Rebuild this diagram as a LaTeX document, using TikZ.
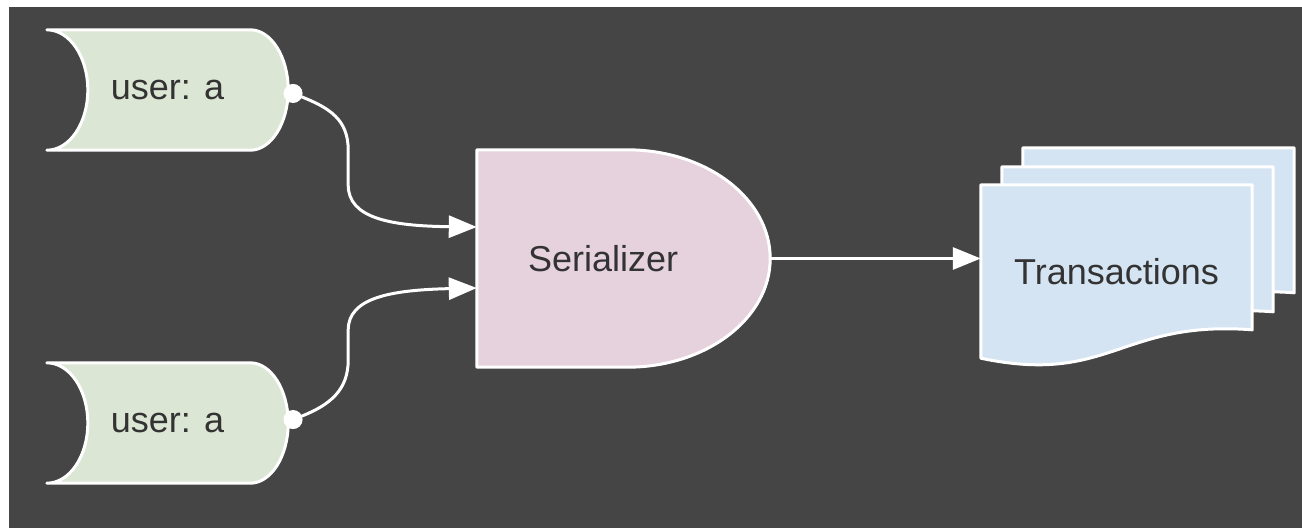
\documentclass[tikz,border=0pt]{standalone}
\usepackage{fontspec}
\setmainfont{Liberation Sans}
\usetikzlibrary{arrows.meta, positioning, calc, backgrounds}
\definecolor{canvas}{HTML}{454545}
\definecolor{usergreen}{HTML}{DCE6D4}
\definecolor{serpink}{HTML}{E6D2DD}
\definecolor{txblue}{HTML}{D4E4F2}
\definecolor{inkgray}{HTML}{333333}

\begin{document}
\begin{tikzpicture}[
  x=1pt, y=-1pt,
  shapetext/.style={font=\fontsize{36}{40}\selectfont, text=inkgray, inner sep=0pt},
  user/.style={shapetext, minimum width=241pt, minimum height=120pt},
  gate/.style={shapetext, minimum height=217pt, text width=191pt, inner xsep=51pt, align=left},
  doc/.style={shapetext, minimum width=271pt, minimum height=173pt},
  outline/.style={draw=white, line width=3pt, line join=round},
  flow/.style={white, line width=3pt},
]
\node[user] (ua) at (167.5,90) {user: a};
\node[user] (ub) at (167.5,423) {user: a};
\node[gate] (ser) at (623.5,258.5) {Serializer};
\node[doc] (tx) at (1116.5,271.5) {Transactions};

\begin{scope}[on background layer]
  \fill[white] (0,0) rectangle (1302,528);
  \fill[canvas] (9,7) rectangle (1302,528);
  % stored data shapes
  \foreach \u in {ua,ub}
    \path[outline, fill=usergreen] (\u.north west)
      .. controls +(23,0) and +(0,-33) .. ($(\u.west)+(41,0)$)
      .. controls +(0,33) and +(23,0) .. (\u.south west)
      -- ($(\u.south east)+(-38,0)$)
      .. controls +(21,0) and +(0,33) .. (\u.east)
      .. controls +(0,-33) and +(21,0) .. ($(\u.north east)+(-38,0)$) -- cycle;
  % delay shape
  \path[outline, fill=serpink] (ser.north west) -- ($(ser.north east)+(-143,0)$)
    .. controls +(79,0) and +(0,-60) .. (ser.east)
    .. controls +(0,60) and +(79,0) .. ($(ser.south east)+(-143,0)$)
    -- (ser.south west) -- cycle;
  % stacked documents, back to front
  \foreach \dx/\dy in {42/-37, 21/-18, 0/0}
    \path[outline, fill=txblue] ([shift={(\dx,\dy)}]tx.north west)
      -- ([shift={(\dx,\dy)}]tx.north east)
      -- ([shift={(\dx,\dy+145)}]tx.north east)
      .. controls +(-132,-10) and +(129,27) .. ([shift={(\dx,\dy)}]tx.south west) -- cycle;
\end{scope}

\draw[flow, {Circle[length=19pt]}-{Triangle[length=28pt, width=22pt]}] ([xshift=-4pt]ua.east)
  .. controls +(46,18) and +(0,-30) .. ++(64,60) -- ++(0,35)
  .. controls +(0,33) and +(-87,-1) .. ([yshift=31.5pt]ser.west);
\draw[flow, {Circle[length=19pt]}-{Triangle[length=28pt, width=22pt]}] ([xshift=-4pt]ub.east)
  .. controls +(46,-18) and +(0,30) .. ++(64,-63) -- ++(0,-30)
  .. controls +(0,-32) and +(-87,2) .. ([yshift=-29.5pt]ser.west);
\draw[flow, -{Triangle[length=28pt, width=22pt]}] (ser.east) -- (ser.east -| tx.west);
\end{tikzpicture}
\end{document}
